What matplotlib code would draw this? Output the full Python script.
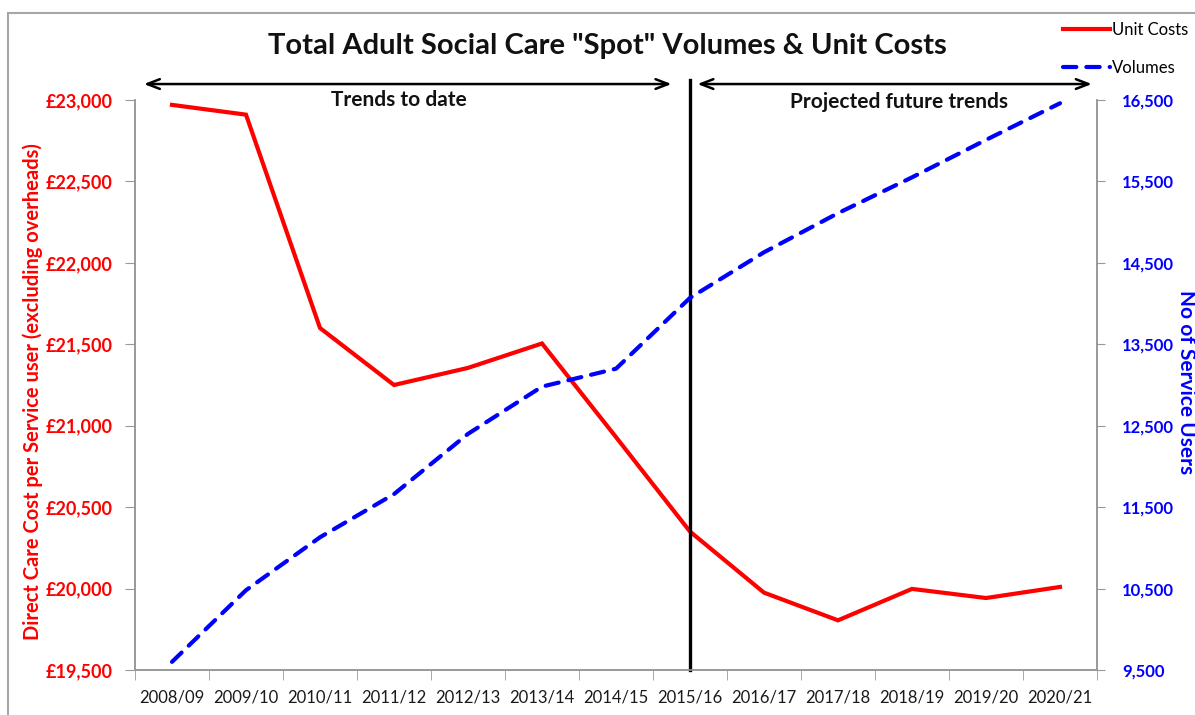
import matplotlib.pyplot as plt
from matplotlib.patches import Rectangle
from matplotlib.ticker import FuncFormatter, MultipleLocator

plt.rcParams['font.family'] = ['Lato', 'DejaVu Sans']

years = ["2008/09", "2009/10", "2010/11", "2011/12", "2012/13", "2013/14", "2014/15",
         "2015/16", "2016/17", "2017/18", "2018/19", "2019/20", "2020/21"]
unit_costs = [22970, 22910, 21600, 21250, 21355, 21505, 20930,
              20350, 19975, 19805, 19998, 19942, 20010]
volumes = [9600, 10480, 11130, 11660, 12400, 12980, 13200,
           14070, 14630, 15110, 15550, 16010, 16460]
split_index = 7

x = list(range(len(years)))

fig = plt.figure(figsize=(11.95, 7.15), dpi=100)
ax = fig.add_axes([135 / 1195, 1 - 670 / 715, (1097 - 135) / 1195, 570 / 715])
ax2 = ax.twinx()

# outer chart border (runs off the right and bottom edges, like the source)
fig.patches.append(Rectangle((8 / 1195, -0.05), 1.1, 1 - 13 / 715 + 0.05,
                             transform=fig.transFigure, fill=False,
                             edgecolor='#a6a6a6', linewidth=1.5))

l1, = ax.plot(x, unit_costs, color='#ff0000', lw=3, solid_joinstyle='miter', zorder=3)
l2, = ax2.plot(x, volumes, color='#0000ff', lw=3, dashes=(3.2, 2.4),
               dash_capstyle='round', zorder=3)

ax.set_xlim(-0.5, len(years) - 0.5)
ax.set_ylim(19500, 23000)
ax2.set_ylim(9500, 16500)
ax.yaxis.set_major_locator(MultipleLocator(500))
ax2.set_yticks(range(9500, 16501, 1000))

ax.yaxis.set_major_formatter(FuncFormatter(lambda v, p: '£{:,.0f}'.format(v)))
ax2.yaxis.set_major_formatter(FuncFormatter(lambda v, p: '{:,.0f}'.format(v)))

ax.set_xticks(x)
ax.set_xticklabels(years, fontsize=12, color='#1a1a1a')
ax.set_xticks([i - 0.5 for i in range(len(years) + 1)], minor=True)
ax.tick_params(axis='x', which='major', length=0, pad=14)
ax.tick_params(axis='x', which='minor', length=7, color='#999999', direction='out')

ax.tick_params(axis='y', length=7, color='#999999', labelcolor='#ff0000', labelsize=13, pad=9)
ax2.tick_params(axis='y', length=6, color='#999999', labelcolor='#0000ff', labelsize=12, pad=12)
for lab in ax.get_yticklabels():
    lab.set_fontweight('bold')
for lab in ax2.get_yticklabels():
    lab.set_fontweight('bold')

for a in (ax, ax2):
    a.spines['top'].set_visible(False)
    for s in ('left', 'right', 'bottom'):
        a.spines[s].set_color('#999999')
        a.spines[s].set_linewidth(1.2)

ax.set_ylabel('Direct Care Cost per Service user (excluding overheads)', color='#ff0000',
              fontsize=14.5, fontweight='bold')
ax.yaxis.set_label_coords((43 - 135) / 962, 0.488)
ax2.set_ylabel('No of Service Users', color='#0000ff', fontsize=15, fontweight='bold',
               rotation=-90, va='center')
ax2.yaxis.set_label_coords((1186 - 135) / 962, 0.505)

fig.text(607 / 1195, 1 - 46 / 715, 'Total Adult Social Care "Spot" Volumes & Unit Costs',
         ha='center', va='center', fontsize=21, fontweight='bold', color='#111111')

# divider between actuals and projections
ax.plot([split_index, split_index], [0, 1.035], color='black', lw=2.4,
        transform=ax.get_xaxis_transform(), clip_on=False, zorder=4)

arrow_y = 1.028
ax.annotate('', xy=(-0.38, arrow_y), xytext=(split_index - 0.25, arrow_y),
            xycoords=('data', 'axes fraction'), textcoords=('data', 'axes fraction'),
            arrowprops=dict(arrowstyle='<->,head_length=0.9,head_width=0.35', color='black', lw=1.8,
                            shrinkA=0, shrinkB=0), annotation_clip=False)
ax.annotate('', xy=(split_index + 0.1, arrow_y), xytext=(12.43, arrow_y),
            xycoords=('data', 'axes fraction'), textcoords=('data', 'axes fraction'),
            arrowprops=dict(arrowstyle='<->,head_length=0.9,head_width=0.35', color='black', lw=1.8,
                            shrinkA=0, shrinkB=0), annotation_clip=False)

ax.text(3.06, 1.0, 'Trends to date', transform=ax.get_xaxis_transform(),
        ha='center', va='center', fontsize=15, fontweight='bold', color='#111111')
ax.text(9.83, 0.997, 'Projected future trends', transform=ax.get_xaxis_transform(),
        ha='center', va='center', fontsize=15, fontweight='bold', color='#111111')

fig.legend([l1, l2], ['Unit Costs', 'Volumes'], loc='upper left',
           bbox_to_anchor=(1063 / 1195, 1 - 22 / 715), frameon=False, fontsize=12,
           handlelength=2.8, handletextpad=0.15, labelspacing=1.3, borderaxespad=0,
           borderpad=0)

fig.savefig('out.png', dpi=100)
